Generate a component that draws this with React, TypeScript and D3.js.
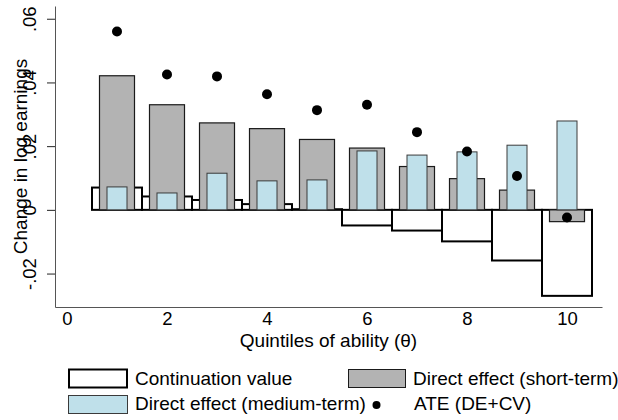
import React, { useEffect, useRef } from "react";
import * as d3 from "d3";

const quintiles = [1, 2, 3, 4, 5, 6, 7, 8, 9, 10];
const continuationValue = [0.007, 0.0042, 0.0031, 0.0018, 0.0002, -0.0049, -0.0065, -0.0099, -0.0159, -0.027];
const directShort = [0.0421, 0.033, 0.0273, 0.0255, 0.0221, 0.0194, 0.0136, 0.0098, 0.0062, -0.0037];
const directMedium = [0.0072, 0.0053, 0.0115, 0.0091, 0.0094, 0.0185, 0.0172, 0.0182, 0.0203, 0.0279];
const ate = [0.056, 0.0425, 0.0419, 0.0363, 0.0313, 0.033, 0.0244, 0.0183, 0.0106, -0.0024];

const xTicks = [0, 2, 4, 6, 8, 10];
const yTicks = [-0.02, 0, 0.02, 0.04, 0.06];
const yTickLabels = ["-.02", "0", ".02", ".04", ".06"];

const FONT = "'Liberation Sans', Arial, Helvetica, sans-serif";

function App() {
  const ref = useRef<SVGSVGElement | null>(null);

  useEffect(() => {
    const svg = d3.select(ref.current);
    svg.selectAll("*").remove();

    const x = d3.scaleLinear().domain([-0.24, 10.7]).range([55, 602]);
    const y = d3.scaleLinear().domain([-0.0305, 0.064]).range([307, 6]);
    const unit = x(1) - x(0);

    const rows = quintiles.map((q, i) => ({
      q,
      cv: continuationValue[i],
      ds: directShort[i],
      dm: directMedium[i],
      ate: ate[i],
    }));

    // continuation value (full width)
    svg
      .append("g")
      .selectAll("rect")
      .data(rows)
      .enter()
      .append("rect")
      .attr("x", (d) => x(d.q - 0.5))
      .attr("width", unit)
      .attr("y", (d) => y(Math.max(0, d.cv)))
      .attr("height", (d) => Math.abs(y(d.cv) - y(0)))
      .attr("fill", "#ffffff")
      .attr("stroke", "#000000")
      .attr("stroke-width", 2);

    // direct effect short-term
    svg
      .append("g")
      .selectAll("rect")
      .data(rows)
      .enter()
      .append("rect")
      .attr("x", (d) => x(d.q - 0.35))
      .attr("width", unit * 0.7)
      .attr("y", (d) => y(Math.max(0, d.ds)))
      .attr("height", (d) => Math.abs(y(d.ds) - y(0)))
      .attr("fill", "#b3b3b3")
      .attr("stroke", "#1a1a1a")
      .attr("stroke-width", 1.2);

    // direct effect medium-term
    svg
      .append("g")
      .selectAll("rect")
      .data(rows)
      .enter()
      .append("rect")
      .attr("x", (d) => x(d.q - 0.2))
      .attr("width", unit * 0.4)
      .attr("y", (d) => y(Math.max(0, d.dm)))
      .attr("height", (d) => Math.abs(y(d.dm) - y(0)))
      .attr("fill", "#bfe0ea")
      .attr("stroke", "#3a3a3a")
      .attr("stroke-width", 1);

    // ATE dots
    svg
      .append("g")
      .selectAll("circle")
      .data(rows)
      .enter()
      .append("circle")
      .attr("cx", (d) => x(d.q))
      .attr("cy", (d) => y(d.ate))
      .attr("r", 5)
      .attr("fill", "#000000");

    // axes
    const yAxis = svg
      .append("g")
      .attr("transform", "translate(55,0)")
      .call(
        d3
          .axisLeft(y)
          .tickValues(yTicks)
          .tickSize(8)
          .tickSizeOuter(0)
          .tickFormat((d, i) => yTickLabels[i])
      );
    yAxis.select(".domain").attr("stroke", "#555555");
    yAxis.selectAll(".tick line").attr("stroke", "#222222");
    yAxis
      .selectAll(".tick text")
      .attr("x", null)
      .attr("dy", null)
      .attr("transform", "translate(-19.5,0) rotate(-90)")
      .attr("text-anchor", "middle")
      .attr("fill", "#000")
      .style("font-family", FONT)
      .style("font-size", "18.5px");

    const xAxis = svg
      .append("g")
      .attr("transform", "translate(0,307)")
      .call(d3.axisBottom(x).tickValues(xTicks).tickSize(0).tickSizeOuter(0));
    xAxis.select(".domain").attr("stroke", "#555555");
    xAxis
      .selectAll(".tick text")
      .attr("y", 18)
      .attr("dy", null)
      .attr("fill", "#000")
      .style("font-family", FONT)
      .style("font-size", "18.5px");

    // axis titles
    svg
      .append("text")
      .attr("x", (55 + 602) / 2)
      .attr("y", 347)
      .attr("text-anchor", "middle")
      .style("font-family", FONT)
      .style("font-size", "19px")
      .text("Quintiles of ability (θ)");

    svg
      .append("text")
      .attr("transform", `translate(27,${(6 + 307) / 2}) rotate(-90)`)
      .attr("text-anchor", "middle")
      .style("font-family", FONT)
      .style("font-size", "19px")
      .text("Change in log earnings");

    // legend
    const legend = svg.append("g").style("font-family", FONT).style("font-size", "19px");
    legend
      .append("rect")
      .attr("x", 69)
      .attr("y", 369.5)
      .attr("width", 58)
      .attr("height", 18)
      .attr("fill", "#fff")
      .attr("stroke", "#000")
      .attr("stroke-width", 2);
    legend.append("text").attr("x", 135).attr("y", 385).text("Continuation value");

    legend
      .append("rect")
      .attr("x", 348.5)
      .attr("y", 369.5)
      .attr("width", 57)
      .attr("height", 18)
      .attr("fill", "#b3b3b3")
      .attr("stroke", "#1a1a1a")
      .attr("stroke-width", 1);
    legend.append("text").attr("x", 413).attr("y", 385).text("Direct effect (short-term)");

    legend
      .append("rect")
      .attr("x", 68.5)
      .attr("y", 395.5)
      .attr("width", 59)
      .attr("height", 18)
      .attr("fill", "#bfe0ea")
      .attr("stroke", "#3a3a3a")
      .attr("stroke-width", 1);
    legend.append("text").attr("x", 135).attr("y", 410).text("Direct effect (medium-term)");

    legend.append("circle").attr("cx", 376.5).attr("cy", 405).attr("r", 4).attr("fill", "#000");
    legend.append("text").attr("x", 414).attr("y", 410).text("ATE (DE+CV)");
  }, []);

  return (
    <svg
      ref={ref}
      width={618}
      height={420}
      style={{ position: "absolute", left: 0, top: 0, background: "#fff" }}
    />
  );
}

export default App;
